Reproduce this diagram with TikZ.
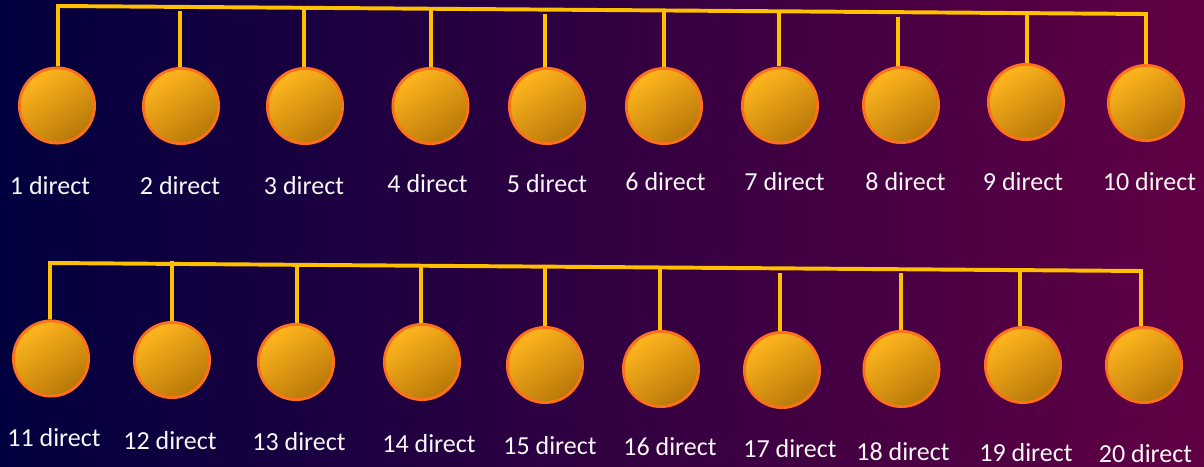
\documentclass[tikz,border=0pt]{standalone}
\usepackage{fontspec}
\setmainfont{Carlito}
\definecolor{bgleft}{RGB}{1,0,62}
\definecolor{bgmid}{RGB}{36,0,64}
\definecolor{bgright}{RGB}{97,0,68}
\definecolor{balltop}{RGB}{255,182,30}
\definecolor{ballbot}{RGB}{184,120,8}
\definecolor{ballrim}{RGB}{255,112,28}
\definecolor{bargold}{RGB}{255,192,0}

\begin{document}
\begin{tikzpicture}[x=0.025cm,y=-0.025cm,
  ball/.style={circle,draw=ballrim,line width=2pt,minimum size=1.88cm,inner sep=0pt,
    top color=balltop,bottom color=ballbot,shading angle=35},
  tag/.style={text=white!94!gray,font=\fontsize{18.5}{22}\selectfont},
  bar/.style={draw=bargold,line width=2.8pt}]

\useasboundingbox (0,0) rectangle (1204,467);
\fill[left color=bgleft,middle color=bgmid,right color=bgright] (0,0) rectangle (1204,467);

% first row
\node[ball] (c1) at (57,105.5) {};
\node[ball] (c2) at (181,106) {};
\node[ball] (c3) at (305,106) {};
\node[ball] (c4) at (430.5,106) {};
\node[ball] (c5) at (547,106) {};
\node[ball] (c6) at (664,106) {};
\node[ball] (c7) at (780,105.5) {};
\node[ball] (c8) at (901,105) {};
\node[ball] (c9) at (1026,102) {};
\node[ball] (c10) at (1146,103) {};

\node[tag] (l1) at (50,186) {1 direct};
\node[tag] (l2) at (180,186) {2 direct};
\node[tag] (l3) at (304,186) {3 direct};
\node[tag] (l4) at (427.5,184) {4 direct};
\node[tag] (l5) at (547,184) {5 direct};
\node[tag] (l6) at (665.5,182) {6 direct};
\node[tag] (l7) at (784.5,182) {7 direct};
\node[tag] (l8) at (905.5,182) {8 direct};
\node[tag] (l9) at (1023,182) {9 direct};
\node[tag] (l10) at (1149.5,181.5) {10 direct};

% second row
\node[ball] (c11) at (51,358.5) {};
\node[ball] (c12) at (172,360) {};
\node[ball] (c13) at (296,362) {};
\node[ball] (c14) at (422,362) {};
\node[ball] (c15) at (545,365) {};
\node[ball] (c16) at (661,369) {};
\node[ball] (c17) at (782,370) {};
\node[ball] (c18) at (901.5,369) {};
\node[ball] (c19) at (1023,365) {};
\node[ball] (c20) at (1144,365) {};

\node[tag] (l11) at (54,438) {11 direct};
\node[tag] (l12) at (170,440.5) {12 direct};
\node[tag] (l13) at (299,442) {13 direct};
\node[tag] (l14) at (429,444) {14 direct};
\node[tag] (l15) at (550,446) {15 direct};
\node[tag] (l16) at (670,447) {16 direct};
\node[tag] (l17) at (790,449) {17 direct};
\node[tag] (l18) at (903,451.5) {18 direct};
\node[tag] (l19) at (1026,453) {19 direct};
\node[tag] (l20) at (1145.5,453.5) {20 direct};

% tops of the hangers
\coordinate (a1) at (58,6);
\coordinate (a10) at (1146,14);
\coordinate (t2) at (180,11);
\coordinate (t3) at (304,8);
\coordinate (t4) at (431,9);
\coordinate (t5) at (545,14);
\coordinate (t6) at (664,10);
\coordinate (t7) at (779,12);
\coordinate (t8) at (898,17);
\coordinate (t9) at (1027,13);

\coordinate (a11) at (50,263);
\coordinate (a20) at (1141,271);
\coordinate (t12) at (172,261);
\coordinate (t13) at (297,266);
\coordinate (t14) at (421,267);
\coordinate (t15) at (545,268);
\coordinate (t16) at (660,268);
\coordinate (t17) at (780,273);
\coordinate (t18) at (901,273);
\coordinate (t19) at (1020,270);

\draw[bar] (a1 |- c1.north) -- (a1) -- (a10) -- (a10 |- c10.north);
\draw[bar] (t2) -- (t2 |- c2.north) (t3) -- (t3 |- c3.north)
  (t4) -- (t4 |- c4.north) (t5) -- (t5 |- c5.north)
  (t6) -- (t6 |- c6.north) (t7) -- (t7 |- c7.north)
  (t8) -- (t8 |- c8.north) (t9) -- (t9 |- c9.north);

\draw[bar] (a11 |- c11.north) -- (a11) -- (a20) -- (a20 |- c20.north);
\draw[bar] (t12) -- (t12 |- c12.north) (t13) -- (t13 |- c13.north)
  (t14) -- (t14 |- c14.north) (t15) -- (t15 |- c15.north)
  (t16) -- (t16 |- c16.north) (t17) -- (t17 |- c17.north)
  (t18) -- (t18 |- c18.north) (t19) -- (t19 |- c19.north);

\end{tikzpicture}
\end{document}
